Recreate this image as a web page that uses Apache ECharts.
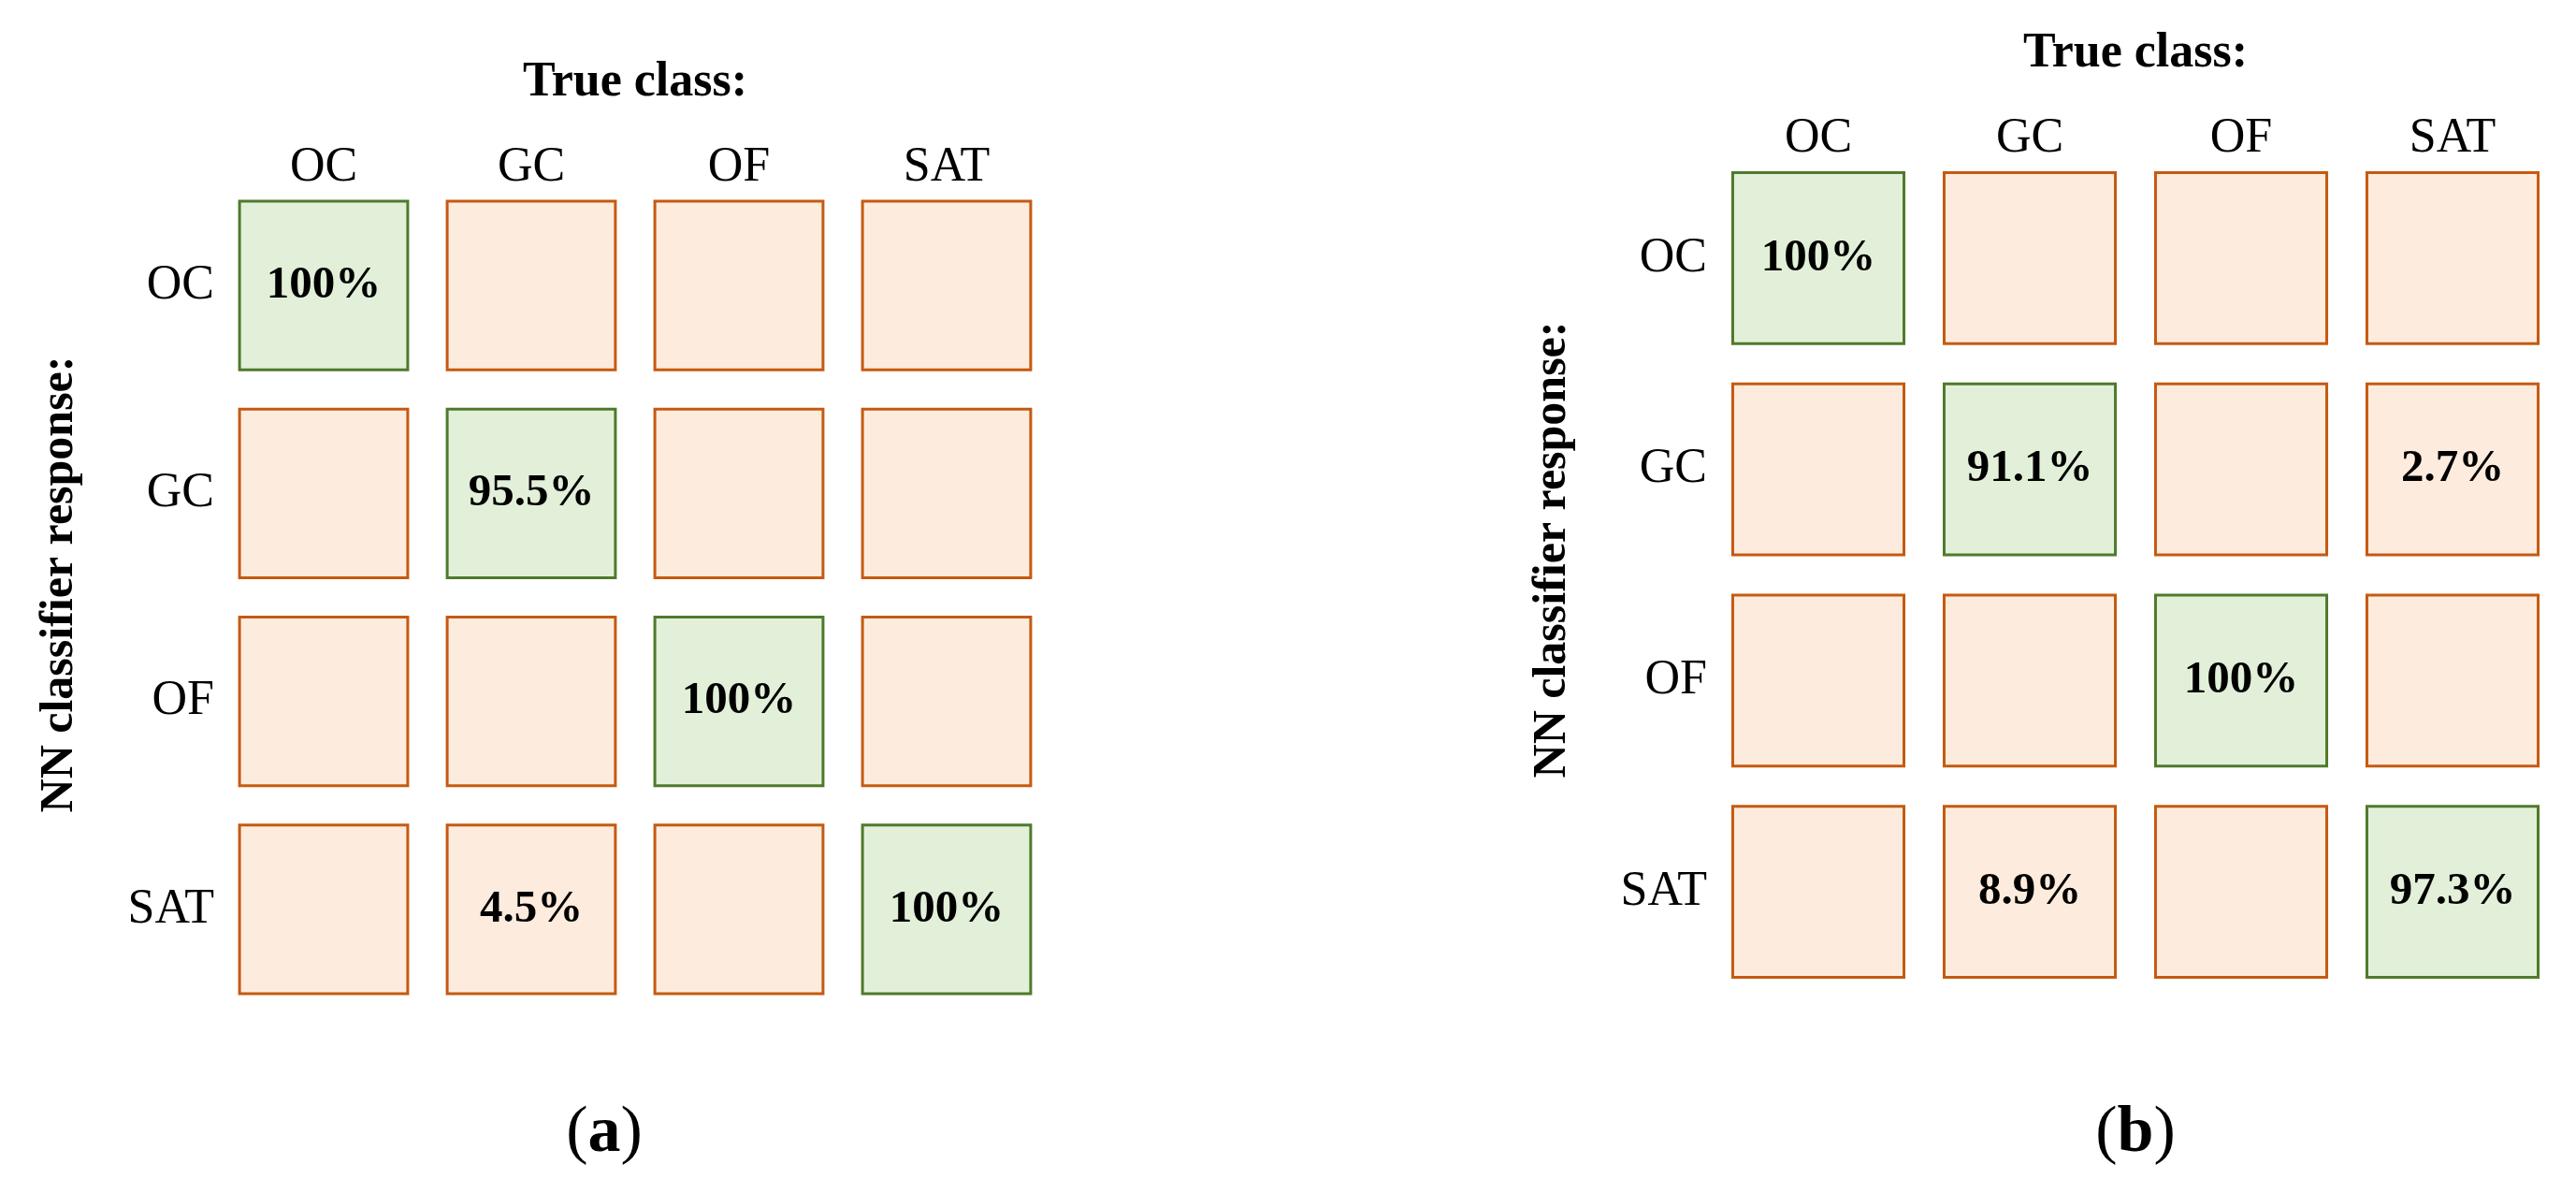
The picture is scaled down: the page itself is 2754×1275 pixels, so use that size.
<!DOCTYPE html>
<html>
<head>
<meta charset="utf-8">
<script src="https://cdn.jsdelivr.net/npm/echarts@6/dist/echarts.min.js"></script>
<style>
  html, body { margin: 0; padding: 0; background: #fff; }
  #chart { width: 2754px; height: 1275px; }
</style>
</head>
<body>
<div id="chart"></div>
<script>
// rows = NN classifier response, cols = true class; null = empty cell
const classes = ['OC', 'GC', 'OF', 'SAT'];
const matrixA = [
  [100, null, null, null],
  [null, 95.5, null, null],
  [null, null, 100, null],
  [null, 4.5, null, 100]
];
const matrixB = [
  [100, null, null, null],
  [null, 91.1, null, 2.7],
  [null, null, 100, null],
  [null, 8.9, null, 97.3]
];
const panelTags = ['a', 'b'];

const FONT = '"Liberation Serif", "Times New Roman", serif';

function toCells(m) {
  const out = [];
  m.forEach((row, r) => row.forEach((v, c) => out.push([c, r, v == null ? '-' : v])));
  return out;
}

function renderCell(params, api) {
  const col = api.value(0), row = api.value(1), v = api.value(2);
  const p = api.coord([col, row]);
  const s = api.size([1, 1]);
  const w = s[0] * 0.81, h = s[1] * 0.81;
  const diag = col === row;
  const children = [{
    type: 'rect',
    shape: { x: p[0] - w / 2, y: p[1] - h / 2, width: w, height: h },
    style: { fill: diag ? '#e2f0d9' : '#fdecdd', stroke: diag ? '#4f7a2b' : '#c55a11', lineWidth: 3 }
  }];
  if (typeof v === 'number' && !isNaN(v)) {
    children.push({
      type: 'text', x: p[0], y: p[1],
      style: { text: v + '%', font: 'bold 49px ' + FONT, fill: '#000', align: 'center', verticalAlign: 'middle' }
    });
  }
  return { type: 'group', children };
}

const chart = echarts.init(document.getElementById('chart'));

const grids = [
  { left: 235, top: 194, width: 888, height: 889 },
  { left: 1831, top: 163, width: 904, height: 903 }
];

const xAxes = grids.map((g, i) => ({
  gridIndex: i, type: 'category', data: classes, position: 'top',
  axisLine: { show: false }, axisTick: { show: false }, splitLine: { show: false },
  axisLabel: { fontSize: 52, fontFamily: FONT, color: '#000', margin: 15, verticalAlign: 'middle' },
  name: 'True class:', nameLocation: 'middle', nameGap: 79,
  nameTextStyle: { fontSize: 52, fontWeight: 'bold', fontFamily: FONT, color: '#000' }
}));

const yAxes = grids.map((g, i) => ({
  gridIndex: i, type: 'category', data: classes, inverse: true,
  axisLine: { show: false }, axisTick: { show: false }, splitLine: { show: false },
  axisLabel: { fontSize: 52, fontFamily: FONT, color: '#000', margin: 6 },
  name: 'NN classifier response:', nameLocation: 'middle', nameRotate: 90, nameGap: 146,
  nameTextStyle: { fontSize: 50, fontWeight: 'bold', fontFamily: FONT, color: '#000',
    padding: i === 0 ? [0, 0, 0, 28] : [0, 0, 0, 54] }
}));

chart.setOption({
  animation: false,
  backgroundColor: '#fff',
  title: panelTags.map((t, i) => ({
    text: '{p|(}{b|' + t + '}{p|)}',
    left: i === 0 ? 641 : 2278, top: 1172, textAlign: 'center',
    textStyle: {
      rich: {
        p: { fontSize: 70, fontFamily: FONT, fontWeight: 'normal', color: '#000' },
        b: { fontSize: 70, fontFamily: FONT, fontWeight: 'bold', color: '#000' }
      }
    }
  })),
  grid: grids,
  xAxis: xAxes,
  yAxis: yAxes,
  series: [matrixA, matrixB].map((m, i) => ({
    type: 'custom', xAxisIndex: i, yAxisIndex: i,
    renderItem: renderCell,
    data: toCells(m)
  }))
});
</script>
</body>
</html>
